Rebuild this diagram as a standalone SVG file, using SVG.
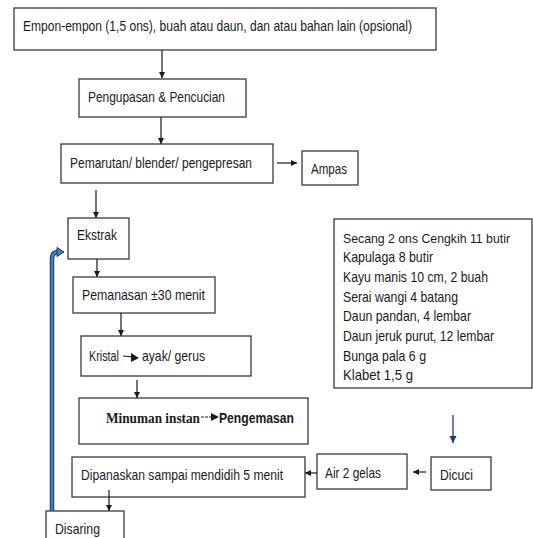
<svg xmlns="http://www.w3.org/2000/svg" width="533" height="538" viewBox="0 0 533 538">
<style>
.box{fill:#fff;stroke:#3a3a3a;stroke-width:1.3}
.t{font-family:"Liberation Sans",Arial,sans-serif;font-size:15px;fill:#1a1a1a}
.ti{font-family:"Liberation Sans",Arial,sans-serif;font-size:14.5px;fill:#1a1a1a}
.tb{font-family:"Liberation Serif","Times New Roman",serif;font-size:15px;font-weight:bold;fill:#1a1a1a}
.tsb{font-family:"Liberation Sans",Arial,sans-serif;font-size:15px;font-weight:bold;fill:#1a1a1a}
.c{fill:none;stroke:#1a1a1a;stroke-width:1.2}
</style>
<defs>
<marker id="ah" viewBox="0 0 10 10" refX="10" refY="5" markerWidth="6" markerHeight="7" markerUnits="userSpaceOnUse" orient="auto">
<path d="M0,0 L10,5 L0,10 z" fill="#1a1a1a"/>
</marker>
<marker id="ahn" viewBox="0 0 10 10" refX="10" refY="5" markerWidth="7" markerHeight="8" markerUnits="userSpaceOnUse" orient="auto">
<path d="M0,0 L10,5 L0,10 z" fill="#1f3a78"/>
</marker>
</defs>

<g id="n-empon">
<rect class="box" x="14" y="8" width="422" height="42"/>
<text class="t" x="23" y="30.5" textLength="389" lengthAdjust="spacingAndGlyphs">Empon-empon (1,5 ons), buah atau daun, dan atau bahan lain (opsional)</text>
</g>
<g id="n-pengupasan">
<rect class="box" x="79" y="79" width="167" height="38"/>
<text class="t" x="88" y="101.5" textLength="137" lengthAdjust="spacingAndGlyphs">Pengupasan &amp; Pencucian</text>
</g>
<g id="n-pemarutan">
<rect class="box" x="61" y="144" width="212" height="39"/>
<text class="t" x="70" y="167.5" textLength="182" lengthAdjust="spacingAndGlyphs">Pemarutan/ blender/ pengepresan</text>
</g>
<g id="n-ampas">
<rect class="box" x="302" y="151" width="56" height="34"/>
<text class="t" x="311" y="173.5" textLength="36" lengthAdjust="spacingAndGlyphs">Ampas</text>
</g>
<g id="n-ekstrak">
<rect class="box" x="68" y="218" width="61" height="41"/>
<text class="t" x="77" y="239.5" textLength="40" lengthAdjust="spacingAndGlyphs">Ekstrak</text>
</g>
<g id="n-pemanasan">
<rect class="box" x="73" y="277" width="142" height="36"/>
<text class="t" x="82" y="299.5" textLength="123" lengthAdjust="spacingAndGlyphs">Pemanasan ±30 menit</text>
</g>
<g id="n-kristal">
<rect class="box" x="81" y="336" width="170" height="40"/>
<text class="t" x="89" y="360.5" textLength="30" lengthAdjust="spacingAndGlyphs">Kristal</text>
<path d="M123,356 L134,357" stroke="#1a1a1a" stroke-width="1.2" fill="none"/>
<path d="M131,353 L139,358 L131,362 z" fill="#1a1a1a"/>
<text class="t" x="142" y="360.5" textLength="63" lengthAdjust="spacingAndGlyphs">ayak/ gerus</text>
</g>
<g id="n-minuman">
<rect class="box" x="79" y="398" width="229" height="46"/>
<text class="tb" x="106" y="422.5" textLength="94" lengthAdjust="spacingAndGlyphs">Minuman instan</text>
<path d="M201,417 L213,417" stroke="#1a1a1a" stroke-width="1" stroke-dasharray="3,1" fill="none"/>
<path d="M211,413 L219,417 L211,421 z" fill="#1a1a1a"/>
<text class="tsb" x="219" y="422.5" textLength="75" lengthAdjust="spacingAndGlyphs">Pengemasan</text>
</g>
<g id="n-bahan">
<rect class="box" x="334" y="219" width="198" height="169"/>
<text class="ti" x="343" y="242.5" font-size="13.5" textLength="167" lengthAdjust="spacingAndGlyphs" style="font-size:13.5px">Secang 2 ons Cengkih 11 butir</text>
<text class="ti" x="343" y="262.2" textLength="90" lengthAdjust="spacingAndGlyphs">Kapulaga 8 butir</text>
<text class="ti" x="343" y="281.9" textLength="145" lengthAdjust="spacingAndGlyphs">Kayu manis 10 cm, 2 buah</text>
<text class="ti" x="343" y="301.6" textLength="115" lengthAdjust="spacingAndGlyphs">Serai wangi 4 batang</text>
<text class="ti" x="343" y="321.3" textLength="128" lengthAdjust="spacingAndGlyphs">Daun pandan, 4 lembar</text>
<text class="ti" x="343" y="341" textLength="151" lengthAdjust="spacingAndGlyphs">Daun jeruk purut, 12 lembar</text>
<text class="ti" x="343" y="360.7" textLength="83" lengthAdjust="spacingAndGlyphs">Bunga pala 6 g</text>
<text class="ti" x="343" y="380.4" textLength="70" lengthAdjust="spacingAndGlyphs">Klabet 1,5 g</text>
</g>
<g id="n-dipanaskan">
<rect class="box" x="72" y="457" width="233" height="40"/>
<text class="t" x="81" y="479.5" textLength="202" lengthAdjust="spacingAndGlyphs">Dipanaskan sampai mendidih 5 menit</text>
</g>
<g id="n-air">
<rect class="box" x="317" y="454" width="90" height="35"/>
<text class="t" x="325" y="477.5" textLength="56" lengthAdjust="spacingAndGlyphs">Air 2 gelas</text>
</g>
<g id="n-dicuci">
<rect class="box" x="431" y="457" width="60" height="33"/>
<text class="t" x="440" y="479.5" textLength="33" lengthAdjust="spacingAndGlyphs">Dicuci</text>
</g>
<g id="n-disaring">
<rect class="box" x="46" y="511" width="78" height="40"/>
<text class="t" x="55" y="533.5" textLength="45" lengthAdjust="spacingAndGlyphs">Disaring</text>
</g>

<g id="connectors">
<path class="c" d="M162,50 V78" marker-end="url(#ah)"/>
<path class="c" d="M161,117 V144" marker-end="url(#ah)"/>
<path class="c" d="M277,163 H297" stroke-width="1.6" marker-end="url(#ah)"/>
<path class="c" d="M96,190 V218" marker-end="url(#ah)"/>
<path class="c" d="M97,259 V277" marker-end="url(#ah)"/>
<path class="c" d="M121,313 V336" marker-end="url(#ah)"/>
<path class="c" d="M137,380 V398" marker-end="url(#ah)"/>
<path class="c" d="M317,473 H305" marker-end="url(#ah)"/>
<path class="c" d="M426,472 H413" marker-end="url(#ah)"/>
<path class="c" d="M109,490 V511" marker-end="url(#ah)"/>
<path d="M453,415 V443" fill="none" stroke="#1f3a78" stroke-width="1.3" marker-end="url(#ahn)"/>
<path d="M52,511 V259 Q52,252 58,252" fill="none" stroke="#1f3a60" stroke-width="4.5"/>
<path d="M52,511 V259 Q52,252 58,252" fill="none" stroke="#3d7fc4" stroke-width="2.5"/>
<path d="M57,247.5 L64,252 L57,256.5 z" fill="#3d7fc4" stroke="#1f3a60" stroke-width="1"/>
</g>
</svg>
